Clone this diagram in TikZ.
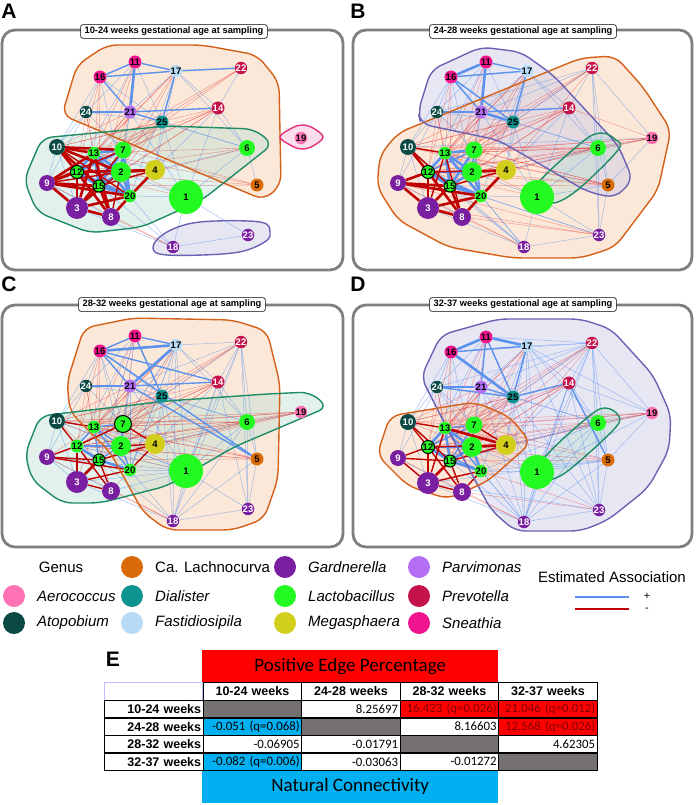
\documentclass[tikz,border=0pt]{standalone}
\usepackage{fontspec}
\setmainfont{Liberation Sans}
\newfontfamily\calib{Carlito}
\pgfdeclarelayer{hf}
\pgfdeclarelayer{ed}
\pgfdeclarelayer{ho}
\pgfsetlayers{hf,ed,ho,main}
\definecolor{lacto}{HTML}{22FA22}
\definecolor{gard}{HTML}{7B1FA2}
\definecolor{atop}{HTML}{0B4A44}
\definecolor{lachno}{HTML}{D96A08}
\definecolor{dial}{HTML}{0E9490}
\definecolor{fast}{HTML}{B8DBF8}
\definecolor{mega}{HTML}{D2CF1C}
\definecolor{parv}{HTML}{B46EF5}
\definecolor{prev}{HTML}{C4134A}
\definecolor{sneath}{HTML}{F2148F}
\definecolor{aero}{HTML}{FF72B4}
\definecolor{orF}{HTML}{F8CDAA}\definecolor{orL}{HTML}{D5601A}
\definecolor{grF}{HTML}{BFE0D4}\definecolor{grL}{HTML}{1E8C64}
\definecolor{puF}{HTML}{CBCBE8}\definecolor{puL}{HTML}{6B62B4}
\definecolor{piF}{HTML}{F7B7D5}\definecolor{piL}{HTML}{E5307C}
\definecolor{eBlue}{HTML}{5B92EE}
\definecolor{eRed}{HTML}{C00000}
\definecolor{tRed}{HTML}{FF0000}
\definecolor{tBlue}{HTML}{00B0F0}
\definecolor{tGray}{HTML}{767171}
\definecolor{frameGray}{HTML}{7F7F7F}
\def\nodelist{1/184/167/17/lacto/black,2/119/142/10/lacto/black,3/75/178/11/gard/white,%
4/153/140/10/mega/black,5/255/155/6.5/lachno/black,6/245/118/8/lacto/black,%
7/121/120/8.5/lacto/black,8/109/187/9/gard/white,9/45/153/8/gard/white,%
10/55/117/8/atop/white,11/133/32/6.5/sneath/black,12/75/142/6.5/lacto/black,%
13/92/123/6/lacto/black,14/216/78/6.5/prev/white,15/97/156/6/lacto/black,%
16/98/47/6.5/sneath/black,17/174/41/6/fast/black,18/171/217/6/gard/white,%
19/299/108/6/aero/black,20/128/166/6/lacto/black,21/128/82/6.5/parv/black,%
22/239/38/6/prev/white,23/246/205/6/gard/white,24/84/82/6/atop/white,25/160/92/6.5/dial/black}
\def\ctb{16/24,16/10,24/10,24/9,10/9,9/3,24/11,16/25,11/25,17/21,17/14,22/14,14/6,6/5,6/1,1/18,1/23,18/23,18/20,18/15,25/1,25/6,17/6,21/1,4/6,13/4,1/20,1/2,24/25,21/6,17/4,14/1,10/3,9/8,3/18,16/2,11/12,21/7,24/7,25/4,14/4,17/20,21/2}
\def\ctr{16/13,16/12,11/13,11/7,17/13,17/2,17/12,21/13,21/12,21/15,24/12,24/13,25/13,25/12,25/7,25/2,25/15,14/12,14/13,14/7,14/2,22/13,17/15,25/10,14/10,6/13,6/12,5/12,5/13,1/12,1/13,18/9,18/8,21/10,24/15,16/15,11/15,22/12,22/7,14/15,6/15,5/15,5/7}
\newcommand\placenodes[1]{\foreach \nn/\nx/\ny/\nr/\nc/\nt in \nodelist {\node[nd, fill=\nc, minimum size={2*\nr}, text=\nt] (#1\nn) at (\nx,\ny) {\nn};}}
\newcommand\ed[3]{\edef\tmplist{#3}\foreach \eu/\ev in \tmplist {\draw[#2] (#1\eu) -- (#1\ev);}}
% rounded polygon hull
\newcommand\hull[2]{%
 \begin{pgfonlayer}{hf}\fill[#1F, fill opacity=0.45, rounded corners=10pt] #2 -- cycle;\end{pgfonlayer}%
 \begin{pgfonlayer}{ho}\draw[#1L, line width=1.4pt, rounded corners=10pt] #2 -- cycle;\end{pgfonlayer}}
% smooth hull
\newcommand\hullS[2]{%
 \begin{pgfonlayer}{hf}\fill[#1F, fill opacity=0.45] plot[smooth cycle, tension=0.6] coordinates {#2};\end{pgfonlayer}%
 \begin{pgfonlayer}{ho}\draw[#1L, line width=1.4pt] plot[smooth cycle, tension=0.6] coordinates {#2};\end{pgfonlayer}}
\begin{document}
\begin{tikzpicture}[x=1pt,y=-1pt,
 nd/.style={circle, inner sep=0pt, font=\bfseries\fontsize{9.5}{10}\selectfont},
 ring/.style={draw=black, line width=1pt},
 pframe/.style={draw=frameGray, line width=2.8pt, rounded corners=13},
 titlebox/.style={draw=black, line width=0.6pt, fill=white, rounded corners=2.5, inner xsep=4pt, inner ysep=2.5pt, font=\bfseries\fontsize{9.3}{10}\selectfont},
 plabel/.style={font=\bfseries\fontsize{21}{21}\selectfont, inner sep=0pt},
 xb/.style={draw=eBlue, line width=0.5pt, draw opacity=0.55},
 xr/.style={draw=red!90!black, line width=0.45pt, draw opacity=0.35},
 xmb/.style={draw=eBlue, line width=1.4pt},
 xmr/.style={draw=eRed, line width=1.4pt},
 xTb/.style={draw=eBlue, line width=2.6pt},
 xTr/.style={draw=eRed, line width=2.6pt},
 lgc/.style={circle, minimum size=22pt, inner sep=0pt},
 lgt/.style={anchor=west, inner sep=0pt, font=\itshape\fontsize{15}{15}\selectfont},
 tc/.style={draw=black, line width=1.3pt, minimum height=17.6pt, text width=94.5pt, align=right, inner xsep=2pt, inner ysep=0pt, anchor=north west, font=\calib\fontsize{12.8}{14}\selectfont},
 th/.style={tc, align=center, font=\bfseries\fontsize{12.5}{14}\selectfont},
 rh/.style={tc, font=\bfseries\fontsize{12.5}{14}\selectfont},
 hbox/.style={minimum width=296pt, inner sep=0pt, anchor=north west, font=\calib\fontsize{19}{20}\selectfont}
]
\useasboundingbox (0,0) rectangle (696,805);
\begin{pgfonlayer}{hf}\fill[white] (0,0) rectangle (696,805);\end{pgfonlayer}

% ---------------- Panel A
\node[plabel] (Alet) at (9,11) {A};
\begin{scope}[shift={(2,30)}]
\draw[pframe] (0,0) rectangle (341,240);
\placenodes{A}
\draw[ring] (A12.center) circle[radius=6.5];
\draw[ring] (A15.center) circle[radius=6];
\node[titlebox] (Atit) at (172,1.5) {10-24 weeks gestational age at sampling};
\hull{or}{(60,85) -- (75,35) -- (105,15) -- (200,15) -- (255,25) -- (277,52) -- (279,155) -- (262,170)}
\hull{gr}{(22,150) -- (40,108) -- (165,96) -- (252,99) -- (271,114) -- (200,170) -- (140,197) -- (88,203) -- (35,182)}
\hullS{pu}{(151,217) (165,202) (198,192) (258,192) (268,203) (261,213) (231,223) (165,225)}
\hullS{pi}{(278,107) (290,98) (300,95) (311,98) (321,107) (311,116) (300,119) (290,116)}
\begin{pgfonlayer}{ed}
\ed{A}{xb}{\ctb}
\ed{A}{xr}{\ctr}
\ed{A}{xTb}{13/7,13/2,13/12,13/15,13/20,7/2,7/12,7/15,12/2,12/15,12/20,15/2,15/20,2/20,7/20,11/21}
\ed{A}{xTr}{10/13,10/12,10/15,10/7,10/2,9/12,9/13,9/15,9/20,3/12,3/13,3/15,3/20,3/8,8/12,8/15,8/20,8/13,4/2,4/20,12/4,9/3}
\ed{A}{xmr}{10/20,9/2,3/2,8/2,4/15,3/7,9/7}
\ed{A}{xmb}{16/21,11/17,16/11,16/17,17/22,24/21,21/25,21/14,25/17}
\end{pgfonlayer}
\end{scope}

% ---------------- Panel B
\node[plabel] (Blet) at (358,11) {B};
\begin{scope}[shift={(353,30)}]
\draw[pframe] (0,0) rectangle (339,240);
\placenodes{B}
\draw[ring] (B12.center) circle[radius=6.5];
\draw[ring] (B15.center) circle[radius=6];
\node[titlebox] (Btit) at (170,1.5) {24-28 weeks gestational age at sampling};
\hull{or}{(27,125) -- (45,103) -- (228,28) -- (262,26) -- (290,57) -- (318,100) -- (305,160) -- (262,217) -- (228,228) -- (160,228) -- (95,217) -- (45,190) -- (24,157)}
\hull{pu}{(65,82) -- (78,40) -- (128,17) -- (168,22) -- (200,45) -- (265,115) -- (280,150) -- (262,168) -- (235,162) -- (145,110) -- (68,94)}
\hullS{gr}{(182,157) (228,113) (248,103) (263,110) (265,120) (228,157) (205,172) (195,170)}
\begin{pgfonlayer}{ed}
\ed{B}{xb}{\ctb}
\ed{B}{xr}{\ctr}
\ed{B}{xb}{19/10,19/6,19/22,19/5,22/24,22/21,22/6,22/5,22/25,22/23,23/20,23/15,23/6,18/12,18/13,18/10,5/1,5/23}
\ed{B}{xr}{19/13,19/7,19/12,19/2,19/4,19/14,22/4,23/3,23/8,23/9,5/10,5/2,6/10,6/7,6/2,10/4,13/6,7/5}
\ed{B}{xTb}{13/7,13/2,13/12,13/15,13/20,12/2,12/15,12/20,15/2,15/20,2/20,7/15,11/16,11/21,21/25}
\ed{B}{xmb}{7/2,7/12,7/20,16/17,11/17,24/21,16/21,17/25,16/25,21/14}
\ed{B}{xTr}{9/12,9/15,3/12,3/15,3/8,8/12,8/15,8/20,3/20,10/12,9/20,2/4,4/20,9/3}
\ed{B}{xmr}{10/13,10/15,4/15,3/13,8/13,12/4}
\end{pgfonlayer}
\end{scope}

% ---------------- Panel C
\node[plabel] (Clet) at (9,284) {C};
\begin{scope}[shift={(2,304)}]
\draw[pframe] (0,1) rectangle (341,243);
\placenodes{C}
\draw[ring] (C7.center) circle[radius=8.5];
\draw[ring] (C15.center) circle[radius=6];
\node[titlebox] (Ctit) at (170,0.5) {28-32 weeks gestational age at sampling};
\hull{or}{(65,78) -- (82,24) -- (131,14) -- (231,16) -- (265,27) -- (278,80) -- (276,175) -- (262,215) -- (231,226) -- (165,226) -- (141,208) -- (108,148) -- (68,108)}
\hull{gr}{(23,150) -- (38,112) -- (165,97) -- (265,90) -- (308,88) -- (326,103) -- (232,143) -- (165,182) -- (98,199) -- (60,199) -- (30,176)}
\begin{pgfonlayer}{ed}
\ed{C}{xb}{\ctb}
\ed{C}{xr}{\ctr}
\ed{C}{xb}{22/6,22/5,22/1,22/18,22/23,22/25,22/21,22/17,14/23,14/18,17/1,17/18,25/18,6/23,6/18,5/23,5/18,19/6,11/2,17/7,17/20,21/20,25/20,16/7,11/15,10/1,9/1,3/1,8/1,12/1}
\ed{C}{xr}{19/12,19/10,19/13,19/2,19/4,19/7,19/15,10/7,10/2,10/15,9/13,3/13,8/20,8/13,10/6,13/6,12/6,12/5,13/5}
\ed{C}{xTb}{12/15,15/20,16/17,17/21}
\ed{C}{xmb}{13/15,12/2,15/2,2/20,13/2,7/13,7/2,13/20,13/12,16/11,11/17,16/14,16/21,21/14,21/5,16/5,24/21,11/25}
\ed{C}{xTr}{3/15}
\ed{C}{xmr}{3/12,10/13,10/12,9/12,9/15,3/20,8/15,8/12,7/4,4/2,4/20,15/4,3/8,9/20,12/7}
\end{pgfonlayer}
\end{scope}

% ---------------- Panel D
\node[plabel] (Dlet) at (358,284) {D};
\begin{scope}[shift={(353,305)}]
\draw[pframe] (0,0) rectangle (339,242);
\placenodes{D}
\draw[ring] (D12.center) circle[radius=6.5];
\draw[ring] (D15.center) circle[radius=6];
\node[titlebox] (Dtit) at (170,-0.5) {32-37 weeks gestational age at sampling};
\hull{pu}{(68,72) -- (88,30) -- (145,14) -- (228,14) -- (258,24) -- (300,70) -- (318,110) -- (316,145) -- (295,183) -- (255,215) -- (228,226) -- (162,226) -- (138,205) -- (122,175) -- (95,125)}
\hull{or}{(24,150) -- (37,111) -- (122,97) -- (157,112) -- (178,138) -- (135,176) -- (95,194) -- (55,181)}
\hullS{gr}{(192,152) (235,112) (252,103) (265,110) (263,122) (228,155) (205,172) (185,175)}
\begin{pgfonlayer}{ed}
\ed{D}{xb}{\ctb}
\ed{D}{xr}{\ctr}
\ed{D}{xb}{22/18,22/1,22/6,22/5,22/23,22/24,22/16,22/11,22/17,22/21,22/25,18/6,18/5,18/14,18/25,18/21,18/13,23/6,23/5,23/14,23/25,23/17,23/3,19/6,19/14,19/22,19/17,19/1,19/5,1/5,17/1,17/18,24/18,14/18,5/3,5/20,6/20,6/15}
\ed{D}{xr}{19/10,19/7,19/13,19/12,19/2,19/4,22/4,22/2,23/8,23/20,10/7,10/2}
\ed{D}{xTb}{13/2,13/12,13/15,12/2,12/15,15/2,15/20,2/20,11/16,11/17,16/25}
\ed{D}{xmb}{13/7,12/20,7/2,13/20,7/15,7/12,16/17,11/21,11/25,24/21,24/25,21/25,25/14,17/25,14/5}
\ed{D}{xTr}{13/4,2/4,3/15}
\ed{D}{xmr}{7/4,3/12,12/8,15/8,10/12,9/12,9/15,3/13,8/20,3/20,12/4,15/4,10/15,10/13,9/3,3/8}
\end{pgfonlayer}
\end{scope}

% ---------------- Legend
\node[inner sep=0pt, font=\fontsize{15}{15}\selectfont] (lgGenus) at (61,567) {Genus};
\node[lgc, fill=aero] (lc1) at (14,596) {};   \node[lgt] (lt1) at (37,596) {Aerococcus};
\node[lgc, fill=atop] (lc2) at (14,623) {};   \node[lgt] (lt2) at (37,623) {Atopobium};
\node[lgc, fill=lachno] (lc3) at (132,567) {}; \node[lgt, font=\fontsize{15}{15}\selectfont] (lt3) at (155,567) {Ca. Lachnocurva};
\node[lgc, fill=dial] (lc4) at (132,596) {};  \node[lgt] (lt4) at (155,596) {Dialister};
\node[lgc, fill=fast] (lc5) at (132,623) {};  \node[lgt] (lt5) at (155,623) {Fastidiosipila};
\node[lgc, fill=gard] (lc6) at (285,567) {};  \node[lgt] (lt6) at (308,567) {Gardnerella};
\node[lgc, fill=lacto] (lc7) at (285,596) {}; \node[lgt] (lt7) at (308,596) {Lactobacillus};
\node[lgc, fill=mega] (lc8) at (285,623) {};  \node[lgt] (lt8) at (308,623) {Megasphaera};
\node[lgc, fill=parv] (lc9) at (419,567) {};  \node[lgt] (lt9) at (442,567) {Parvimonas};
\node[lgc, fill=prev] (lc10) at (419,596) {}; \node[lgt] (lt10) at (442,596) {Prevotella};
\node[lgc, fill=sneath] (lc11) at (419,623) {}; \node[lgt] (lt11) at (442,623) {Sneathia};
\node[inner sep=0pt, font=\fontsize{15}{15}\selectfont] (estA) at (612,577) {Estimated Association};
\coordinate (lb1) at (575,597); \coordinate (lb2) at (629,597);
\coordinate (lr1) at (575,609); \coordinate (lr2) at (629,609);
\draw[draw=eBlue, line width=2pt] (lb1) -- (lb2);
\draw[draw=eRed, line width=2pt] (lr1) -- (lr2);
\node[inner sep=0pt, font=\fontsize{11}{11}\selectfont] (plus) at (647,596) {+};
\node[inner sep=0pt, font=\fontsize{11}{11}\selectfont] (minus) at (647,610) {-};

% ---------------- Table E
\node[plabel] (Elet) at (113,659) {E};
\node[hbox, fill=tRed, minimum height=32pt] (peh) at (202,650) {Positive Edge Percentage};
\node[hbox, fill=tBlue, minimum height=33pt] (nch) at (202,770) {Natural Connectivity};
\node[anchor=north west, draw=blue!25, line width=0.6pt, minimum width=98pt, minimum height=17.6pt, inner sep=0pt] (t00) at (104,682) {};
\node[th] (t01) at (202.5,682) {10-24 weeks};
\node[th] (t02) at (301,682) {24-28 weeks};
\node[th] (t03) at (399.5,682) {28-32 weeks};
\node[th] (t04) at (498,682) {32-37 weeks};
\node[rh] (t10) at (104,699.6) {10-24 weeks};
\node[rh] (t20) at (104,717.2) {24-28 weeks};
\node[rh] (t30) at (104,734.8) {28-32 weeks};
\node[rh] (t40) at (104,752.4) {32-37 weeks};
\node[tc, fill=tGray] (t11) at (202.5,699.6) {};
\node[tc] (t12) at (301,699.6) {8.25697};
\node[tc, fill=tRed, text=red!50!black] (t13) at (399.5,699.6) {16.423 (q=0.026)};
\node[tc, fill=tRed, text=red!50!black] (t14) at (498,699.6) {21.046 (q=0.012)};
\node[tc, fill=tBlue] (t21) at (202.5,717.2) {-0.051 (q=0.068)};
\node[tc, fill=tGray] (t22) at (301,717.2) {};
\node[tc] (t23) at (399.5,717.2) {8.16603};
\node[tc, fill=tRed, text=red!50!black] (t24) at (498,717.2) {12.568 (q=0.026)};
\node[tc] (t31) at (202.5,734.8) {-0.06905};
\node[tc] (t32) at (301,734.8) {-0.01791};
\node[tc, fill=tGray] (t33) at (399.5,734.8) {};
\node[tc] (t34) at (498,734.8) {4.62305};
\node[tc, fill=tBlue] (t41) at (202.5,752.4) {-0.082 (q=0.006)};
\node[tc] (t42) at (301,752.4) {-0.03063};
\node[tc] (t43) at (399.5,752.4) {-0.01272};
\node[tc, fill=tGray] (t44) at (498,752.4) {};
\end{tikzpicture}
\end{document}
